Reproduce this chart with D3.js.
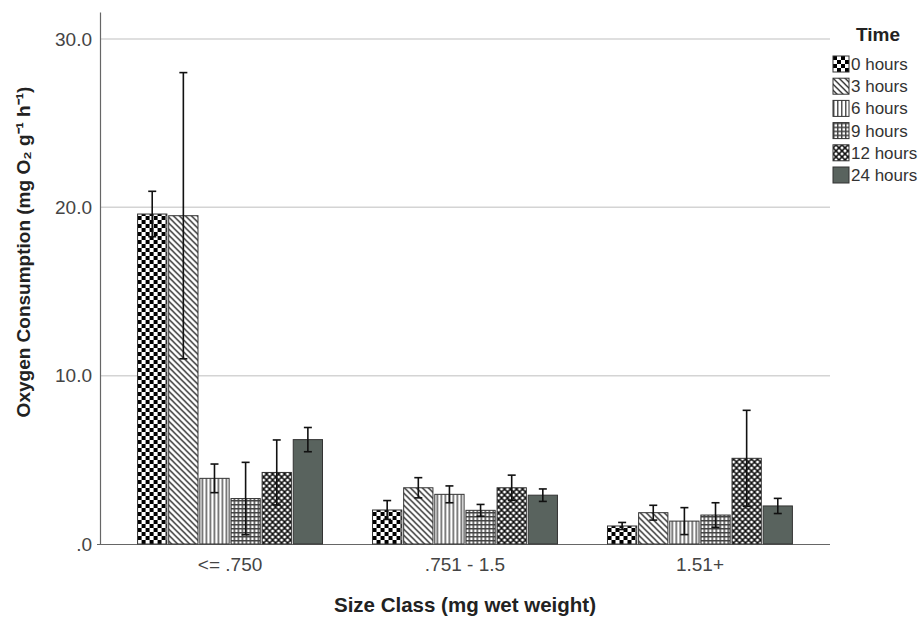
<!DOCTYPE html>
<html>
<head>
<meta charset="utf-8">
<script src="https://cdn.jsdelivr.net/npm/d3@7"></script>
<style>
  body { margin: 0; background: #fff; }
  text { font-family: "Liberation Sans", Arial, sans-serif; }
</style>
</head>
<body>
<div id="chart"></div>
<script>
// data
var sizeClasses = ["<= .750", ".751 - 1.5", "1.51+"];
var times = ["0 hours", "3 hours", "6 hours", "9 hours", "12 hours", "24 hours"];
// mean per time, one array per size class
var meanSmall = [19.6, 19.5, 3.9, 2.7, 4.25, 6.2];
var meanMedium = [2.02, 3.34, 2.95, 2.0, 3.34, 2.9];
var meanLarge = [1.07, 1.86, 1.36, 1.72, 5.09, 2.26];
// half length of the error bars
var errSmall = [1.35, 8.5, 0.85, 2.15, 1.93, 0.72];
var errMedium = [0.56, 0.6, 0.5, 0.35, 0.75, 0.37];
var errLarge = [0.21, 0.44, 0.8, 0.73, 2.85, 0.45];
var yTicks = [0, 10, 20, 30];

var data = [];
[meanSmall, meanMedium, meanLarge].forEach(function(arr, gi) {
    var errs = [errSmall, errMedium, errLarge][gi];
    arr.forEach(function(v, ti) {
        data.push({size: sizeClasses[gi], time: times[ti], value: v, err: errs[ti]});
    });
});

var W = 922, H = 619;
var plot = {left: 100, right: 830, top: 12, bottom: 544};

var svg = d3.select("#chart").append("svg")
    .attr("width", W)
    .attr("height", H);

// patterns for the bar fills
var defs = svg.append("defs");

var p0 = defs.append("pattern").attr("id", "pat0").attr("patternUnits", "userSpaceOnUse")
    .attr("width", 8).attr("height", 8);
p0.append("rect").attr("width", 8).attr("height", 8).attr("fill", "#fff");
p0.append("rect").attr("width", 4).attr("height", 4).attr("fill", "#000");
p0.append("rect").attr("x", 4).attr("y", 4).attr("width", 4).attr("height", 4).attr("fill", "#000");

var p1 = defs.append("pattern").attr("id", "pat1").attr("patternUnits", "userSpaceOnUse")
    .attr("width", 6).attr("height", 6);
p1.append("rect").attr("width", 6).attr("height", 6).attr("fill", "#fff");
p1.append("path").attr("d", "M-1,-1 L7,7 M-4,2 L4,10 M2,-4 L10,4")
    .attr("stroke", "#222").attr("stroke-width", 1.3);

var p2 = defs.append("pattern").attr("id", "pat2").attr("patternUnits", "userSpaceOnUse")
    .attr("width", 4).attr("height", 4);
p2.append("rect").attr("width", 4).attr("height", 4).attr("fill", "#fff");
p2.append("rect").attr("x", 0).attr("width", 1.5).attr("height", 4).attr("fill", "#555");

var p3 = defs.append("pattern").attr("id", "pat3").attr("patternUnits", "userSpaceOnUse")
    .attr("width", 4).attr("height", 4);
p3.append("rect").attr("width", 4).attr("height", 4).attr("fill", "#fff");
p3.append("rect").attr("x", 0).attr("width", 1.5).attr("height", 4).attr("fill", "#444");
p3.append("rect").attr("y", 0).attr("width", 4).attr("height", 1.5).attr("fill", "#444");

var p4 = defs.append("pattern").attr("id", "pat4").attr("patternUnits", "userSpaceOnUse")
    .attr("width", 6).attr("height", 6);
p4.append("rect").attr("width", 6).attr("height", 6).attr("fill", "#111");
[[0, 0], [6, 0], [0, 6], [6, 6], [3, 3]].forEach(function(c) {
    p4.append("circle").attr("cx", c[0]).attr("cy", c[1]).attr("r", 1.55).attr("fill", "#fff");
});

var fills = d3.scaleOrdinal()
    .domain(times)
    .range(["url(#pat0)", "url(#pat1)", "url(#pat2)", "url(#pat3)", "url(#pat4)", "#59635e"]);

// scales
var x0 = d3.scaleBand()
    .domain(sizeClasses)
    .range([plot.left, plot.right])
    .paddingInner(0.213)
    .paddingOuter(0.16);

var x1 = d3.scaleBand()
    .domain(times)
    .range([0, x0.bandwidth()])
    .paddingInner(0.06);

var y = d3.scaleLinear()
    .domain([0, 31.6])
    .range([plot.bottom, plot.top]);

// gridlines
svg.append("g")
    .selectAll("line")
    .data(yTicks.filter(function(d) { return d > 0; }))
    .enter().append("line")
    .attr("x1", plot.left)
    .attr("x2", plot.right)
    .attr("y1", function(d) { return y(d); })
    .attr("y2", function(d) { return y(d); })
    .attr("stroke", "#d4d4d4")
    .attr("stroke-width", 1.5);

// y axis
var yAxis = svg.append("g")
    .attr("transform", "translate(" + plot.left + ",0)")
    .call(d3.axisLeft(y).tickValues(yTicks).tickSize(0).tickPadding(8)
        .tickFormat(function(d) { return d === 0 ? ".0" : d3.format(".1f")(d); }));
yAxis.select(".domain").attr("stroke", "#666").attr("stroke-width", 1.2);
yAxis.selectAll("text")
    .style("font-size", "19px")
    .style("font-family", "'Liberation Sans', Arial, sans-serif")
    .attr("fill", "#444");

// x axis
var xAxis = svg.append("g")
    .attr("transform", "translate(0," + plot.bottom + ")")
    .call(d3.axisBottom(x0).tickSize(0).tickPadding(14).tickSizeOuter(0));
xAxis.select(".domain")
    .attr("d", "M" + (plot.left - 3) + ",0.5H" + plot.right)
    .attr("stroke", "#666").attr("stroke-width", 1.2);
xAxis.selectAll("text")
    .style("font-size", "19px")
    .style("font-family", "'Liberation Sans', Arial, sans-serif")
    .attr("fill", "#444");

// bars
var groups = svg.append("g")
    .selectAll("g")
    .data(sizeClasses)
    .enter().append("g")
    .attr("transform", function(d) { return "translate(" + x0(d) + ",0)"; });

groups.selectAll("rect")
    .data(function(s) { return data.filter(function(d) { return d.size === s; }); })
    .enter().append("rect")
    .attr("x", function(d) { return x1(d.time); })
    .attr("y", function(d) { return y(d.value); })
    .attr("width", x1.bandwidth())
    .attr("height", function(d) { return y(0) - y(d.value); })
    .attr("fill", function(d) { return fills(d.time); })
    .attr("stroke", "#333")
    .attr("stroke-width", 1);

// error bars
var capW = 4;
var eb = groups.selectAll("g.err")
    .data(function(s) { return data.filter(function(d) { return d.size === s; }); })
    .enter().append("g")
    .attr("class", "err")
    .attr("stroke", "#111")
    .attr("stroke-width", 1.6);
eb.append("line")
    .attr("x1", function(d) { return x1(d.time) + x1.bandwidth() / 2; })
    .attr("x2", function(d) { return x1(d.time) + x1.bandwidth() / 2; })
    .attr("y1", function(d) { return y(d.value + d.err); })
    .attr("y2", function(d) { return y(d.value - d.err); });
eb.append("line")
    .attr("x1", function(d) { return x1(d.time) + x1.bandwidth() / 2 - capW; })
    .attr("x2", function(d) { return x1(d.time) + x1.bandwidth() / 2 + capW; })
    .attr("y1", function(d) { return y(d.value + d.err); })
    .attr("y2", function(d) { return y(d.value + d.err); });
eb.append("line")
    .attr("x1", function(d) { return x1(d.time) + x1.bandwidth() / 2 - capW; })
    .attr("x2", function(d) { return x1(d.time) + x1.bandwidth() / 2 + capW; })
    .attr("y1", function(d) { return y(d.value - d.err); })
    .attr("y2", function(d) { return y(d.value - d.err); });

// axis titles
svg.append("text")
    .attr("x", (plot.left + plot.right) / 2)
    .attr("y", 612)
    .attr("text-anchor", "middle")
    .style("font-size", "20.5px")
    .style("font-weight", "bold")
    .attr("fill", "#222")
    .text("Size Class (mg wet weight)");

svg.append("text")
    .attr("transform", "translate(30,252) rotate(-90)")
    .attr("text-anchor", "middle")
    .style("font-size", "19px")
    .style("font-weight", "bold")
    .attr("fill", "#222")
    .text("Oxygen Consumption (mg O\u2082 g\u207B\u00B9 h\u207B\u00B9)");

// legend
svg.append("text")
    .attr("x", 856)
    .attr("y", 41)
    .style("font-size", "19px")
    .style("font-weight", "bold")
    .attr("fill", "#222")
    .text("Time");

var legend = svg.append("g")
    .selectAll("g")
    .data(times)
    .enter().append("g")
    .attr("transform", function(d, i) { return "translate(833," + (56 + i * 22.2) + ")"; });

legend.append("rect")
    .attr("width", 16)
    .attr("height", 16)
    .attr("fill", function(d) { return fills(d); })
    .attr("stroke", "#333")
    .attr("stroke-width", 1);

legend.append("text")
    .attr("x", 18)
    .attr("y", 8)
    .attr("dy", ".35em")
    .style("font-size", "17px")
    .attr("fill", "#333")
    .text(String);
</script>
</body>
</html>
